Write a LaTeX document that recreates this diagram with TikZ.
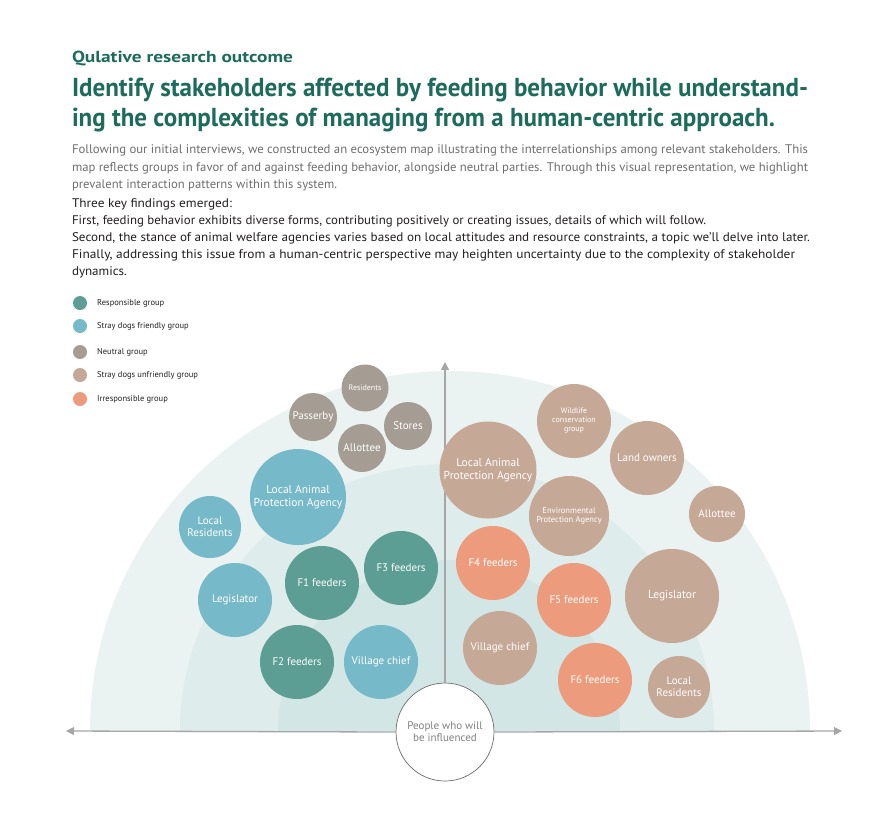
\documentclass[tikz,border=0pt]{standalone}
\usepackage{fontspec}
\usepackage{graphicx}
\setmainfont{PT Sans}
\usetikzlibrary{arrows.meta}
\definecolor{cTitle}{HTML}{1C6B5C}
\definecolor{cBody}{HTML}{6E6E6E}
\definecolor{cBlack}{HTML}{231F20}
\definecolor{cResp}{HTML}{5C9D94}
\definecolor{cFriend}{HTML}{76B9C8}
\definecolor{cNeutral}{HTML}{A59D93}
\definecolor{cUnfr}{HTML}{C6A897}
\definecolor{cIrr}{HTML}{EC9C7C}
\definecolor{cBandA}{HTML}{EAF2F2}
\definecolor{cBandB}{HTML}{DEECEC}
\definecolor{cBandC}{HTML}{D3E6E6}
\definecolor{cAxis}{HTML}{A6A6A6}
\newcommand\fs[1]{\fontsize{#1}{#1}\selectfont}
\newcommand\fitline[2]{\resizebox{#1pt}{\height}{#2}}
\tikzset{
  txt/.style={anchor=base west, inner sep=0pt, outer sep=0pt},
  bub/.style={circle, inner sep=0pt, outer sep=0pt, text=white, align=center, font=\fs{11}},
  resp/.style={bub, fill=cResp},
  friend/.style={bub, fill=cFriend},
  neutral/.style={bub, fill=cNeutral},
  unfr/.style={bub, fill=cUnfr},
  irr/.style={bub, fill=cIrr},
  legdot/.style={circle, inner sep=0pt, minimum size=14pt},
  legtxt/.style={anchor=west, inner sep=0pt, font=\fs{8.5}, text=cBlack},
  axisline/.style={draw=cAxis, line width=1.3pt, -{Triangle[length=8pt,width=8pt]}},
}
\newcommand\bubble[5]{\node[#1, minimum size=#4*2pt] (#2) at (#3) {#5};}
\begin{document}
\begin{tikzpicture}[x=1pt,y=-1pt]
\useasboundingbox[fill=white] (0,0) rectangle (882,831);
% bands
\fill[cBandA] (90,731) arc[start angle=180, end angle=0, radius=360pt] -- cycle;
\fill[cBandB] (180,731) arc[start angle=180, end angle=0, radius=267pt] -- cycle;
\fill[cBandC] (278,731) arc[start angle=180, end angle=0, radius=171pt] -- cycle;
% axes
\node[circle, draw=gray!85!black, line width=0.7pt, fill=white, minimum size=98pt, inner sep=0pt, align=center, text=gray, font=\fs{11}] (ctr) at (445,732) {People who will\\[1pt]be influenced};
\coordinate (axL) at (66,731);
\coordinate (axR) at (842,731);
\coordinate (axT) at (445,362);
\draw[axisline] (ctr.west) -- (axL);
\draw[axisline] (ctr.east) -- (axR);
\draw[axisline] (ctr.north) -- (axT);
% left bubbles
\bubble{neutral, font=\fs{8}}{nRes}{365,388}{23.5}{Residents}
\bubble{neutral}{nPass}{313,417}{24}{Passerby}
\bubble{neutral}{nSto}{408,426}{24}{Stores}
\bubble{neutral}{nAll}{362,448}{24}{Allottee}
\bubble{friend, font=\fs{11.5}}{fLapa}{298,497}{48}{Local Animal\\[1pt]Protection Agency}
\bubble{friend}{fLoc}{210,527}{31}{Local\\[1pt]Residents}
\bubble{friend}{fLeg}{235,600}{37}{Legislator}
\bubble{resp}{rF1}{322,583}{37}{F1 feeders}
\bubble{resp}{rF3}{401,568}{37}{F3 feeders}
\bubble{resp}{rF2}{297,662}{37}{F2 feeders}
\bubble{friend}{fVil}{381,662}{37}{Village chief}
% right bubbles
\bubble{unfr, font=\fs{8}}{uWild}{574,421}{37}{Wildlife\\[1pt]conservation\\[1pt]group}
\bubble{unfr, font=\fs{11.5}}{uLapa}{488,470}{48.5}{Local Animal\\[1pt]Protection Agency}
\bubble{unfr}{uLand}{647,458}{37}{Land owners}
\bubble{unfr, font=\fs{8.5}}{uEnv}{569,516}{40}{Environmental\\[1pt]Protection Agency}
\bubble{unfr}{uAll}{717,514}{28}{Allottee}
\bubble{irr}{iF4}{493,563}{37}{F4 feeders}
\bubble{irr}{iF5}{574,600}{37}{F5 feeders}
\bubble{unfr, font=\fs{11.5}}{uLeg}{672,596}{47}{Legislator}
\bubble{unfr}{uVil}{500,648}{37}{Village chief}
\bubble{irr}{iF6}{595,680}{37}{F6 feeders}
\bubble{unfr}{uLoc}{679,687}{31}{Local\\[1pt]Residents}
% legend
\node[legdot, fill=cResp] (l1) at (80,303) {};
\node[legtxt] (l1t) at (97,303) {Responsible group};
\node[legdot, fill=cFriend] (l2) at (80,326) {};
\node[legtxt] (l2t) at (97,326) {Stray dogs friendly group};
\node[legdot, fill=cNeutral] (l3) at (80,352) {};
\node[legtxt] (l3t) at (97,352) {Neutral group};
\node[legdot, fill=cUnfr] (l4) at (80,375) {};
\node[legtxt] (l4t) at (97,375) {Stray dogs unfriendly group};
\node[legdot, fill=cIrr] (l5) at (80,399) {};
\node[legtxt] (l5t) at (97,399) {Irresponsible group};
% texts
\node[txt, text=cTitle, font=\bfseries\fs{16}] (sub) at (72,62) {\fitline{221}{Qulative research outcome}};
\node[txt, text=cTitle, font=\bfseries\fs{26}] (ti1) at (72,96) {\fitline{736}{Identify stakeholders affected by feeding behavior while understand-}};
\node[txt, text=cTitle, font=\bfseries\fs{26}] (ti2) at (72,126) {\fitline{703}{ing the complexities of managing from a human-centric approach.}};
\node[txt, text=cBody, font=\fs{12.5}] (b1) at (72,153) {\fitline{736}{Following our initial interviews, we constructed an ecosystem map illustrating the interrelationships among relevant stakeholders. This}};
\node[txt, text=cBody, font=\fs{12.5}] (b2) at (72,171) {\fitline{736}{map reflects groups in favor of and against feeding behavior, alongside neutral parties. Through this visual representation, we highlight}};
\node[txt, text=cBody, font=\fs{12.5}] (b3) at (72,188) {\fitline{265}{prevalent interaction patterns within this system.}};
\node[txt, text=cBlack, font=\fs{12.5}] (k0) at (72,207) {\fitline{160}{Three key findings emerged:}};
\node[txt, text=cBlack, font=\fs{12.5}] (k1) at (72,224) {\fitline{634}{First, feeding behavior exhibits diverse forms, contributing positively or creating issues, details of which will follow.}};
\node[txt, text=cBlack, font=\fs{12.5}] (k2) at (72,241) {\fitline{738}{Second, the stance of animal welfare agencies varies based on local attitudes and resource constraints, a topic we'll delve into later.}};
\node[txt, text=cBlack, font=\fs{12.5}] (k3) at (72,258) {\fitline{723}{Finally, addressing this issue from a human-centric perspective may heighten uncertainty due to the complexity of stakeholder}};
\node[txt, text=cBlack, font=\fs{12.5}] (k4) at (72,275) {\fitline{55}{dynamics.}};
\end{tikzpicture}
\end{document}
